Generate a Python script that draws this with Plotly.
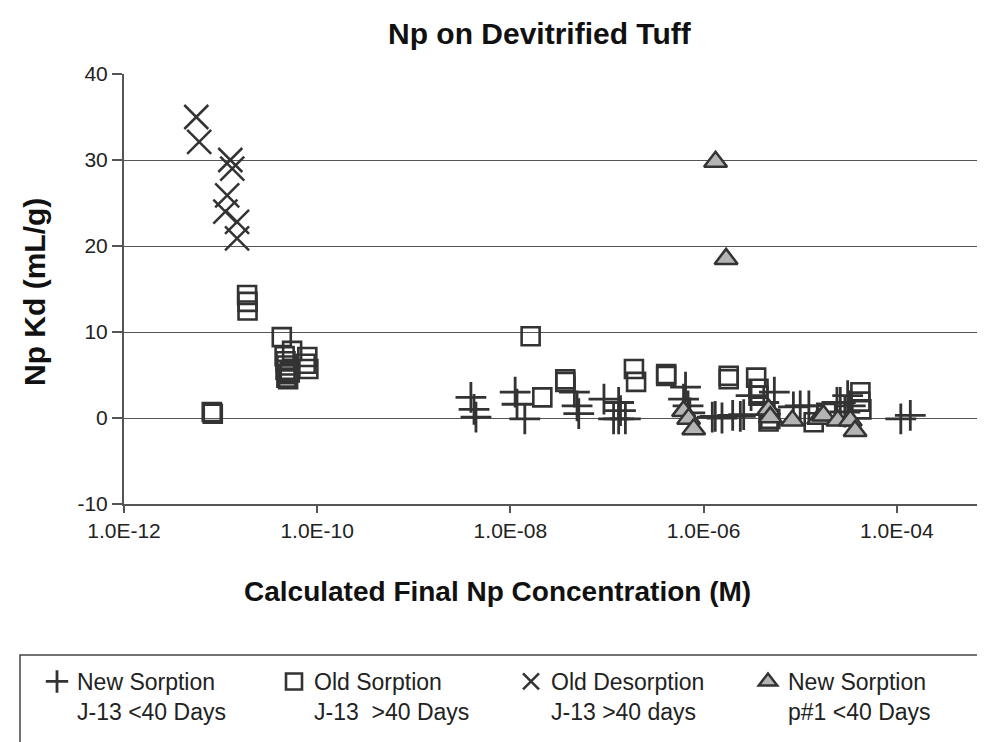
import plotly.graph_objects as go

# ---- data ----
new_j13_conc = [3.9e-9, 4.2e-9, 4.4e-9, 1.12e-8, 1.17e-8, 1.41e-8, 4.6e-8, 4.9e-8, 5.1e-8,
                9.3e-8, 1.32e-7, 1.17e-7, 1.32e-7, 1.55e-7, 1.38e-7,
                6.5e-7, 6.2e-7, 6.9e-7, 7.2e-7,
                1.23e-6, 1.32e-6, 1.55e-6, 2.0e-6, 2.4e-6, 2.6e-6,
                3.1e-6, 4.2e-6, 5.4e-6, 8.5e-6, 1.0e-5, 1.23e-5,
                2.4e-5, 3.1e-5, 2.9e-5, 2.6e-5, 3.3e-5, 1.1e-4, 1.38e-4]
new_j13_kd = [2.4, 1.0, 0.1, 3.0, 1.6, -0.1, 3.0, 1.4, 0.5,
              2.2, 1.8, -0.1, -0.1, -0.1, 0.85,
              3.6, 2.2, 1.4, 0.6,
              0.1, 0.2, 0.0, 0.3, 0.2, 0.4,
              2.6, 1.8, 3.0, 1.3, 1.4, 1.4,
              1.8, 2.6, 0.7, 1.8, 1.4, -0.1, 0.3]

old_sorp_conc = [1.88e-11, 1.9e-11, 1.9e-11, 8.1e-12, 8.3e-12, 4.3e-11, 5.5e-11,
                 7.9e-11, 7.6e-11, 8.1e-11,
                 4.6e-11, 4.7e-11, 4.8e-11, 4.7e-11, 4.9e-11, 4.8e-11, 5.0e-11, 5.2e-11,
                 1.62e-8, 2.14e-8, 3.7e-8, 3.7e-8, 1.9e-7, 2.0e-7, 4.1e-7, 4.1e-7,
                 1.82e-6, 1.82e-6, 3.5e-6, 3.7e-6, 3.7e-6, 4.7e-6, 4.9e-6,
                 1.38e-5, 1.86e-5, 4.2e-5, 4.2e-5, 4.3e-5]
old_sorp_kd = [14.3, 13.5, 12.5, 0.7, 0.5, 9.4, 7.8,
               7.1, 6.3, 5.7,
               7.2, 6.6, 6.1, 5.6, 5.1, 4.7, 4.5, 5.3,
               9.5, 2.4, 4.5, 4.2, 5.7, 4.2, 5.1, 4.9,
               4.9, 4.5, 4.7, 3.4, 2.6, -0.4, -0.1,
               -0.5, 0.6, 3.0, 1.9, 1.0]

old_desorp_conc = [5.6e-12, 6.0e-12, 1.26e-11, 1.32e-11, 1.17e-11, 1.12e-11, 1.48e-11, 1.48e-11]
old_desorp_kd = [35.0, 32.1, 30.0, 29.0, 25.9, 24.0, 22.8, 20.9]

new_p1_conc = [1.33e-6, 1.71e-6, 6.2e-7, 7.0e-7, 7.9e-7, 4.7e-6, 4.9e-6, 8.3e-6,
               1.55e-5, 1.74e-5, 2.45e-5, 3.3e-5, 3.7e-5]
new_p1_kd = [29.8, 18.5, 0.8, -0.1, -1.3, 1.0, 0.1, -0.3,
             -0.1, 0.3, -0.3, -0.3, -1.5]

x_tick_vals = [1e-12, 1e-10, 1e-8, 1e-6, 1e-4]
x_tick_text = ["1.0E-12", "1.0E-10", "1.0E-08", "1.0E-06", "1.0E-04"]
y_tick_vals = [-10, 0, 10, 20, 30, 40]
y_tick_text = ["-10", "0", "10", "20", "30", "40"]

names = ["New Sorption<br>J-13 <40 Days", "Old Sorption<br>J-13  >40 Days",
         "Old Desorption<br>J-13 >40 days", "New Sorption<br>p#1 <40 Days"]

DARK = "#333333"
FONT = "Liberation Sans, Arial, sans-serif"

fig = go.Figure()
fig.add_trace(go.Scatter(x=new_j13_conc, y=new_j13_kd, mode="markers", name=names[0],
                         marker=dict(symbol="cross-thin-open", size=22, color=DARK,
                                     line=dict(color=DARK, width=2.8))))
fig.add_trace(go.Scatter(x=old_sorp_conc, y=old_sorp_kd, mode="markers", name=names[1],
                         marker=dict(symbol="square-open", size=18, color=DARK,
                                     line=dict(color=DARK, width=2.6))))
fig.add_trace(go.Scatter(x=old_desorp_conc, y=old_desorp_kd, mode="markers", name=names[2],
                         marker=dict(symbol="x-thin-open", size=24, color=DARK,
                                     line=dict(color=DARK, width=2.5))))
fig.add_trace(go.Scatter(x=new_p1_conc, y=new_p1_kd, mode="markers", name=names[3],
                         marker=dict(symbol="triangle-up", size=20, color="#b4b4b4",
                                     line=dict(color=DARK, width=2.5))))

# page is offset by 8px (body margin); work in reference-page pixels
OFF = 8
W, H = 985 - OFF, 742 - OFF
L = 124 - OFF
T = 74 - OFF
B = H - (504 - OFF)
pw = W - L
ph = H - T - B


def px_x(p):
    return (p - OFF - L) / pw


def px_y(p):
    return (H - B - (p - OFF)) / ph


fig.update_layout(
    width=W, height=H,
    margin=dict(l=L, r=0, t=T, b=B),
    paper_bgcolor="white", plot_bgcolor="white",
    font=dict(family=FONT, color="#111111"),
    showlegend=True,
    legend=dict(orientation="h", x=px_x(50), y=px_y(660), xanchor="left", yanchor="top",
                font=dict(size=23, family=FONT, color="#222222"),
                entrywidth=192, entrywidthmode="pixels", valign="top",
                bgcolor="rgba(0,0,0,0)", borderwidth=0),
    annotations=[
        dict(text="<b>Np on Devitrified Tuff</b>", x=px_x(540), y=px_y(33), xref="paper", yref="paper",
             showarrow=False, font=dict(size=30, family=FONT, color="#111111"),
             xanchor="center", yanchor="middle"),
        dict(text="<b>Calculated Final Np Concentration (M)</b>", x=px_x(497), y=px_y(591),
             xref="paper", yref="paper", showarrow=False,
             font=dict(size=28, family=FONT, color="#111111"), xanchor="center", yanchor="middle"),
        dict(text="<b>Np Kd (mL/g)</b>", x=px_x(34), y=px_y(292), xref="paper", yref="paper",
             showarrow=False, textangle=-90,
             font=dict(size=30, family=FONT, color="#111111"), xanchor="center", yanchor="middle"),
    ],
    shapes=[dict(type="rect", xref="paper", yref="paper", x0=px_x(20), x1=px_x(1100),
                 y0=px_y(655), y1=px_y(800), line=dict(color="#444444", width=1.5))],
)

fig.update_xaxes(type="log", range=[-12, -12 + (985 - 124) / 96.6],
                 tickvals=x_tick_vals, ticktext=x_tick_text,
                 ticks="outside", ticklen=7, tickcolor="#555555", tickwidth=1.5,
                 showline=True, linecolor="#555555", linewidth=2,
                 showgrid=False, zeroline=False,
                 tickfont=dict(size=21, family=FONT, color="#222222"))
fig.update_yaxes(range=[-10, 40], tickvals=y_tick_vals, ticktext=y_tick_text,
                 ticks="outside", ticklen=10, tickcolor="#555555", tickwidth=1.5,
                 showline=True, linecolor="#555555", linewidth=2,
                 showgrid=True, gridcolor="#555555", gridwidth=1.3, zeroline=False,
                 tickfont=dict(size=21, family=FONT, color="#222222"))

fig.write_html("out.html")
